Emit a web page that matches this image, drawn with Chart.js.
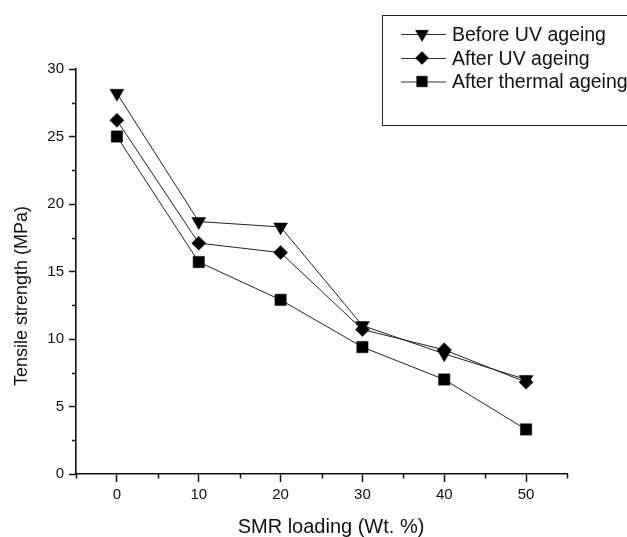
<!DOCTYPE html>
<html>
<head>
<meta charset="utf-8">
<script src="https://cdn.jsdelivr.net/npm/chart.js@4.4.1/dist/chart.umd.min.js"></script>
<style>
  html, body { margin: 0; padding: 0; background: #fff; }
  #wrap { width: 627px; height: 537px; }
</style>
</head>
<body>
<div id="wrap"><canvas id="chart" width="627" height="537"></canvas></div>
<script>
// values
const loadings = [0, 10, 20, 30, 40, 50];
const beforeUV = [28.2, 18.7, 18.3, 11.0, 8.9, 7.0];
const afterUV = [26.2, 17.1, 16.4, 10.7, 9.2, 6.8];
const afterThermal = [25.0, 15.7, 12.9, 9.4, 7.0, 3.3];
const seriesNames = ["Before UV ageing", "After UV ageing", "After thermal ageing"];

const xTicks = [0, 10, 20, 30, 40, 50];
const yTicks = [0, 5, 10, 15, 20, 25, 30];
const xMinorTicks = [-5, 5, 15, 25, 35, 45, 55];
const yMinorTicks = [2.5, 7.5, 12.5, 17.5, 22.5, 27.5];

const FONT = "'Liberation Sans', Arial, sans-serif";
const INK = "#111";

function toPoints(values) {
  return loadings.map((x, i) => ({ x: x, y: values[i] }));
}

const styles = [
  { pointStyle: "triangle", rotation: 180, radius: 8 },
  { pointStyle: "rectRot", rotation: 0, radius: 7 },
  { pointStyle: "rect", rotation: 0, radius: 8 }
];

const datasets = [beforeUV, afterUV, afterThermal].map((vals, i) => ({
  label: seriesNames[i],
  data: toPoints(vals),
  borderColor: "#222",
  borderWidth: 1,
  backgroundColor: "#000",
  pointStyle: styles[i].pointStyle,
  pointRotation: styles[i].rotation,
  pointRadius: styles[i].radius,
  pointBackgroundColor: "#000",
  pointBorderColor: "#000",
  pointBorderWidth: 0.5,
  tension: 0
}));

const extras = {
  id: "extras",
  afterDraw(chart) {
    const ctx = chart.ctx;
    const xs = chart.scales.x;
    const ys = chart.scales.y;
    const area = chart.chartArea;
    ctx.save();

    // minor ticks
    ctx.strokeStyle = INK;
    ctx.lineWidth = 1.5;
    ctx.beginPath();
    xMinorTicks.forEach(v => {
      const px = Math.round(xs.getPixelForValue(v)) + 0.5;
      ctx.moveTo(px, area.bottom);
      ctx.lineTo(px, area.bottom + 4.5);
    });
    yMinorTicks.forEach(v => {
      const py = Math.round(ys.getPixelForValue(v)) + 0.5;
      ctx.moveTo(area.left, py);
      ctx.lineTo(area.left - 4, py);
    });
    ctx.stroke();

    // axis titles
    ctx.fillStyle = INK;
    ctx.textAlign = "center";
    ctx.textBaseline = "alphabetic";
    ctx.font = "20px " + FONT;
    ctx.fillText("SMR loading (Wt. %)", 331, 533);

    ctx.save();
    ctx.translate(27, 296);
    ctx.rotate(-Math.PI / 2);
    ctx.font = "18px " + FONT;
    ctx.fillText("Tensile strength (MPa)", 0, 0);
    ctx.restore();

    // legend box
    ctx.strokeStyle = "#222";
    ctx.lineWidth = 1;
    ctx.strokeRect(382.5, 15.5, 300, 110);

    const rows = [34, 58, 81.5];
    chart.data.datasets.forEach((ds, i) => {
      const y = rows[i];
      ctx.strokeStyle = "#333";
      ctx.lineWidth = 1;
      ctx.beginPath();
      ctx.moveTo(401, y + 0.5);
      ctx.lineTo(446, y + 0.5);
      ctx.stroke();
      ctx.fillStyle = "#000";
      ctx.strokeStyle = "#000";
      ctx.lineWidth = 0.5;
      Chart.helpers.drawPoint(ctx, {
        pointStyle: ds.pointStyle,
        rotation: ds.pointRotation,
        radius: ds.pointRadius - 0.5,
        borderWidth: 0.5
      }, 422, y);
      ctx.fillStyle = INK;
      ctx.textAlign = "left";
      ctx.font = "19.5px " + FONT;
      ctx.fillText(ds.label, 452, y + 6.5);
    });

    ctx.restore();
  }
};

new Chart(document.getElementById("chart"), {
  type: "line",
  data: { datasets },
  options: {
    responsive: false,
    animation: false,
    layout: { padding: { top: 69, right: 60, left: 0, bottom: 0 } },
    plugins: {
      legend: { display: false },
      tooltip: { enabled: false }
    },
    scales: {
      x: {
        type: "linear",
        min: -5,
        max: 55,
        afterBuildTicks: s => { s.ticks = xTicks.map(v => ({ value: v })); },
        afterFit: s => { s.height = 63; },
        grid: { drawOnChartArea: false, drawTicks: true, tickLength: 8, color: INK, tickWidth: 1.5 },
        border: { display: true, color: INK, width: 1.6 },
        ticks: { color: INK, font: { family: FONT, size: 15 }, padding: 4, maxRotation: 0 }
      },
      y: {
        min: 0,
        max: 30,
        afterBuildTicks: s => { s.ticks = yTicks.map(v => ({ value: v })); },
        afterFit: s => { s.width = 76; },
        grid: { drawOnChartArea: false, drawTicks: true, tickLength: 7, color: INK, tickWidth: 1.5 },
        border: { display: true, color: INK, width: 1.6 },
        ticks: { color: INK, font: { family: FONT, size: 15 }, padding: 5 }
      }
    }
  },
  plugins: [extras]
});
</script>
</body>
</html>
